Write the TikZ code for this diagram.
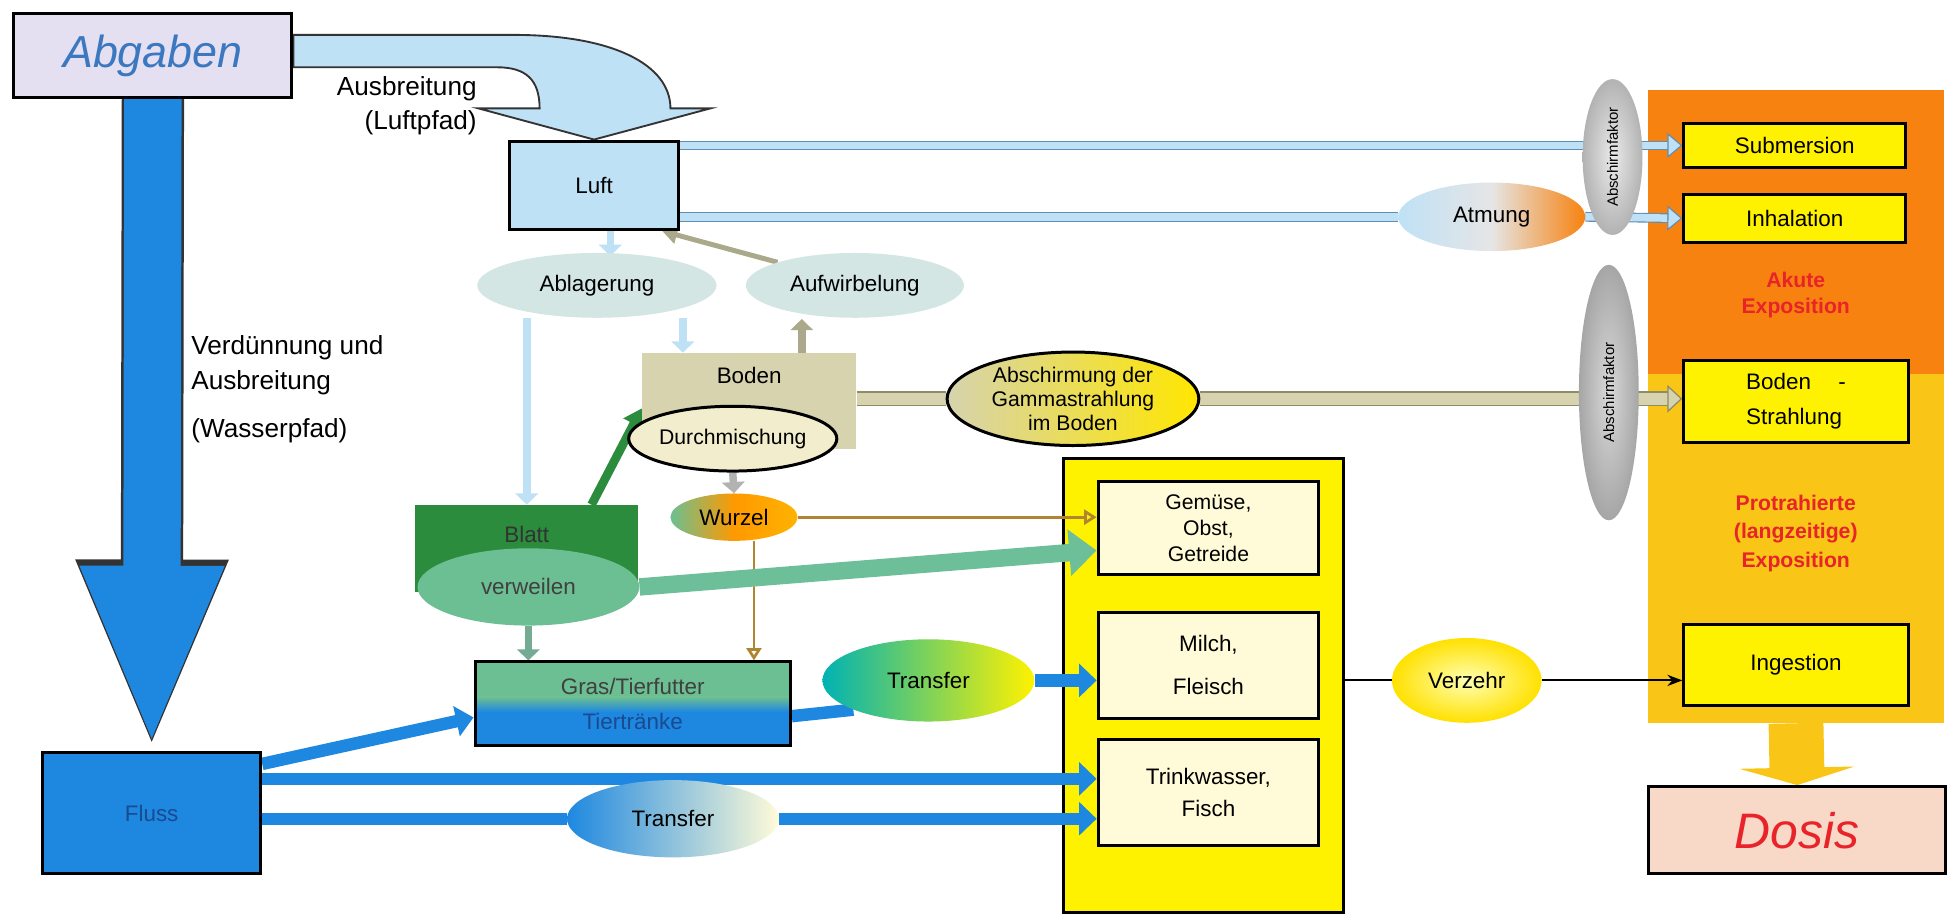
\documentclass[tikz,border=0pt]{standalone}
\usepackage{fontspec}
\setmainfont{Liberation Sans}
\usetikzlibrary{shapes.geometric,arrows.meta,backgrounds}

\definecolor{lavendel}{HTML}{E4E0F2}
\definecolor{abgabenblau}{HTML}{3C78C0}
\definecolor{luftblau}{HTML}{BFE1F6}
\definecolor{luftrand}{HTML}{5F8DB3}
\definecolor{wasser}{HTML}{1E88E0}
\definecolor{wassertext}{HTML}{1A4A90}
\definecolor{bodenkhaki}{HTML}{D6D3AE}
\definecolor{bodenrand}{HTML}{8E8C68}
\definecolor{blattgruen}{HTML}{2A8C3C}
\definecolor{grasgruen}{HTML}{6CBF92}
\definecolor{verwgruen}{HTML}{6DBF9A}
\definecolor{gelb}{HTML}{FFF200}
\definecolor{creme}{HTML}{FFFBD8}
\definecolor{akutorange}{HTML}{F7820F}
\definecolor{langgelb}{HTML}{F9C516}
\definecolor{pfirsich}{HTML}{F8D8C6}
\definecolor{rottext}{HTML}{E8232A}
\definecolor{wurzelbraun}{HTML}{B08430}
\definecolor{ellipsgruen}{HTML}{D3E6E3}

\begin{document}
\begin{tikzpicture}[x=1pt, y=-1pt, font=\fontsize{18}{22}\selectfont,
  box/.style={draw=black, line width=2.4pt, inner sep=2pt, align=center, anchor=north west},
  oval/.style={ellipse, inner sep=0pt, align=center},
  kleinpfeil/.style={line width=6pt, draw=#1, -{Triangle[length=9pt,width=18pt]}},
  luftband/.style={draw=luftrand, line width=0.9pt, double=luftblau, double distance=6pt},
  bodenband/.style={draw=bodenrand, line width=1pt, double=bodenkhaki, double distance=10pt},
  wasserband/.style={line width=10pt, draw=wasser},
  braunpfeil/.style={line width=2.2pt, draw=wurzelbraun, -{Triangle[open, length=10pt, width=12pt]}}]
\useasboundingbox (0,0) rectangle (1568,733);

% Quelle und Pfade
\node[box, fill=lavendel, minimum width=223, minimum height=67, text=abgabenblau,
  font=\itshape\fontsize{36}{40}\selectfont] (abgaben) at (10,10) {Abgaben};
\node[box, fill=luftblau, minimum width=135, minimum height=71] (luft) at (408,112) {Luft};
\node[box, fill=wasser, text=wassertext, minimum width=175, minimum height=97] (fluss) at (33,603) {Fluss};
\node[anchor=north east, align=right, font=\fontsize{21}{27}\selectfont] (luftpfad) at (386,58) {Ausbreitung\\(Luftpfad)};
\node[anchor=north west, align=left, font=\fontsize{21}{28}\selectfont] (wasserpfad) at (150,266) {Verdünnung und\\Ausbreitung\\[10pt](Wasserpfad)};

% Boden und Pflanzen
\node[oval, fill=ellipsgruen, minimum width=192, minimum height=52] (ablag) at (479,229) {Ablagerung};
\node[oval, fill=ellipsgruen, minimum width=175, minimum height=52] (aufw) at (686,229) {Aufwirbelung};
\node[anchor=north west, fill=bodenkhaki, minimum width=172, minimum height=77,
  label={[anchor=north, yshift=-8pt]north:Boden}] (boden) at (515,283) {};
\node[oval, draw=black, line width=2.4pt, fill=black!5!creme, minimum width=152, minimum height=52,
  font=\fontsize{17}{20}\selectfont] (durch) at (588,352) {Durchmischung};
\node[oval, left color=grasgruen, right color=orange!60!yellow, middle color=orange!80!yellow,
  minimum width=102, minimum height=38] (wurzel) at (589,415) {Wurzel};
\node[anchor=north west, fill=blattgruen, minimum width=179, minimum height=70,
  label={[anchor=north, yshift=-14pt, text=black!80]north:Blatt}] (blatt) at (333,405) {};
\node[oval, fill=grasgruen, minimum width=178, minimum height=62, text=black!75] (verw) at (424,471) {verweilen};
\node[box, minimum width=253, minimum height=67,
  path picture={
    \fill[grasgruen] (path picture bounding box.north west) rectangle ([yshift=-28pt]path picture bounding box.north east);
    \shade[top color=grasgruen, bottom color=wasser] ([yshift=-28pt]path picture bounding box.north west) rectangle ([yshift=-40pt]path picture bounding box.north east);
    \fill[wasser] ([yshift=-40pt]path picture bounding box.north west) rectangle (path picture bounding box.south east);}]
  (gras) at (380,530) {\textcolor{black!75}{Gras/Tierfutter}\\[6pt]\textcolor{wassertext}{Tiertränke}};
\node[oval, left color=teal!60!cyan, right color=gelb, minimum width=170, minimum height=66] (transfer1) at (745,546) {Transfer};
\node[oval, left color=wasser, right color=creme, minimum width=170, minimum height=62] (transfer2) at (540,657) {Transfer};
\node[oval, draw=black, line width=2.4pt, left color=bodenkhaki, right color=gelb!90!orange,
  minimum width=202, minimum height=75, font=\fontsize{17}{19}\selectfont] (absch) at (861,320) {Abschirmung der\\Gammastrahlung\\im Boden};

% Nahrungsmittel
\node[box, fill=creme, minimum width=177, minimum height=75, font=\fontsize{17}{21}\selectfont] (gemuese) at (880,385) {Gemüse,\\Obst,\\Getreide};
\node[box, fill=creme, minimum width=177, minimum height=85] (milch) at (880,490) {Milch,\\[12pt]Fleisch};
\node[box, fill=creme, minimum width=177, minimum height=85] (trink) at (880,592) {Trinkwasser,\\[4pt]Fisch};
\node[oval, inner color=yellow!30, outer color=gelb!85!orange, minimum width=120, minimum height=68] (verzehr) at (1177,546) {Verzehr};
\node[oval, left color=luftblau, right color=akutorange, middle color=black!10, minimum width=150, minimum height=55] (atmung) at (1197,174) {Atmung};

% Exposition
\node[box, fill=gelb, minimum width=178, minimum height=35] (sub) at (1350,98) {Submersion};
\node[box, fill=gelb, minimum width=178, minimum height=38] (inh) at (1350,155) {Inhalation};
\node[font=\bfseries\fontsize{17}{21}\selectfont, text=rottext, align=center] (akute) at (1441,237) {Akute\\Exposition};
\node[box, fill=gelb, minimum width=180, minimum height=66, align=left] (bstr) at (1350,288) {Boden\hspace{22pt}-\\[6pt]Strahlung};
\node[font=\bfseries\fontsize{17}{23}\selectfont, text=rottext, align=center] (protr) at (1441,428) {Protrahierte\\(langzeitige)\\Exposition};
\node[box, fill=gelb, minimum width=180, minimum height=65] (ing) at (1350,500) {Ingestion};
\node[box, fill=pfirsich, minimum width=238, minimum height=70, text=rottext,
  font=\itshape\fontsize{40}{44}\selectfont] (dosis) at (1322,630) {Dosis};
\node[oval, rotate=90, inner color=black!8, outer color=black!30, minimum width=125, minimum height=48,
  font=\fontsize{12}{14}\selectfont] (schirm1) at (1294,126) {Abschirmfaktor};
\node[oval, rotate=90, inner color=black!15, outer color=black!35, minimum width=205, minimum height=48,
  font=\fontsize{12}{14}\selectfont] (schirm2) at (1291,315) {Abschirmfaktor};

\begin{scope}[on background layer]
\node[anchor=north west, fill=akutorange, minimum width=238, minimum height=228, inner sep=0pt] (akutfeld) at (1322,72) {};
\node[anchor=north west, fill=langgelb, minimum width=238, minimum height=280, inner sep=0pt] (langfeld) at (1322,300) {};
\node[box, fill=gelb, minimum width=225, minimum height=364] (nahrung) at (852,367) {};

% Luftpfad
\draw[black!80, line width=1.5pt, fill=luftblau] (abgaben.east |- 0,28) -- (412,28)
  .. controls (492,28) and (538,52) .. (538,87) -- (570,87) -- (luft.north) -- (384,87) -- (433,87)
  .. controls (433,64) and (422,54) .. (399,54) -- (abgaben.east |- 0,54) -- cycle;
% Wasserpfad
\draw[black!80, line width=50pt, -{Triangle[length=154pt,width=110pt]}] (abgaben.south) -- (fluss.north);
\draw[wasser, line width=46pt, -{Triangle[length=146pt,width=104pt]}, shorten >=3pt] (abgaben.south) -- (fluss.north);

\draw[luftband, -{Triangle[length=12pt,width=20pt,fill=luftblau]}] (sub.west -| luft.east) -- (sub.west);
\draw[luftband] (atmung.west -| luft.east) -- (atmung.west);
\draw[luftband, -{Triangle[length=12pt,width=20pt,fill=luftblau]}] (atmung.east) -- (inh.west);

\draw[kleinpfeil=luftblau] ([xshift=13pt]luft.south) -- ([xshift=13pt, yshift=-20pt]luft.south);
\draw[line width=4pt, draw=bodenkhaki!80!black, -{Triangle[length=12pt,width=14pt]}] (aufw.north west) -- ([xshift=-14pt]luft.south east);
\draw[kleinpfeil=luftblau] (blatt.north |- ablag.south) -- (blatt.north);
\draw[kleinpfeil=luftblau] ([xshift=33pt, yshift=28pt]boden.north west) -- ([xshift=33pt]boden.north west);
\draw[kleinpfeil=bodenkhaki!80!black] ([xshift=-44pt]boden.north east) -- ([xshift=-44pt, yshift=27pt]boden.north east);
\draw[line width=7pt, blattgruen, -{Triangle[length=14pt,width=18pt]}] ([xshift=52pt]blatt.north) -- ([yshift=-6pt]boden.west);
\draw[kleinpfeil=black!30] (durch.south) -- (wurzel.north);

\coordinate (wurzelfuss) at ([xshift=16pt]wurzel.south);
\draw[braunpfeil] (wurzel.east) -- (wurzel.east -| gemuese.west);
\draw[braunpfeil] (wurzelfuss) -- (wurzelfuss |- gras.north);
\draw[line width=14pt, verwgruen, -{Triangle[length=22pt,width=36pt]}] (verw.east) -- ([yshift=-18pt]gemuese.west);
\draw[kleinpfeil=verwgruen!70!gray] (verw.south) -- (verw.south |- gras.north);

% Fluss
\coordinate (flussoben) at ([yshift=-22pt]fluss.north east);
\draw[wasserband, -{Triangle[length=14pt,width=24pt]}] ([yshift=-10pt]fluss.north east) -- ([yshift=-11pt]gras.west);
\draw[wasserband, -{Triangle[length=14pt,width=26pt]}] (flussoben) -- (flussoben -| trink.west);
\draw[wasserband] (transfer2.west -| fluss.east) -- (transfer2.west);
\draw[wasserband, -{Triangle[length=14pt,width=26pt]}] (transfer2.east) -- (transfer2.east -| trink.west);
\draw[wasserband] ([yshift=-10pt]gras.east) -- (transfer1.south west);
\draw[wasserband, -{Triangle[length=14pt,width=26pt]}] (transfer1.east) -- (transfer1.east -| milch.west);

% Bodenstrahlung
\draw[bodenband] (absch.west -| boden.east) -- (absch.west);
\draw[bodenband, -{Triangle[length=12pt,width=22pt,fill=bodenkhaki]}] (absch.east) -- (absch.east -| bstr.west);

% Verzehr und Dosis
\draw[line width=1.5pt] (verzehr.west -| nahrung.east) -- (verzehr.west);
\draw[line width=1.5pt, -{Stealth[length=12pt,width=9pt]}] (verzehr.east) -- (verzehr.east -| ing.west);
\draw[line width=44pt, langgelb, -{Triangle[length=14pt,width=92pt]}] (langfeld.south) -- (dosis.north);
\end{scope}
\end{tikzpicture}
\end{document}
